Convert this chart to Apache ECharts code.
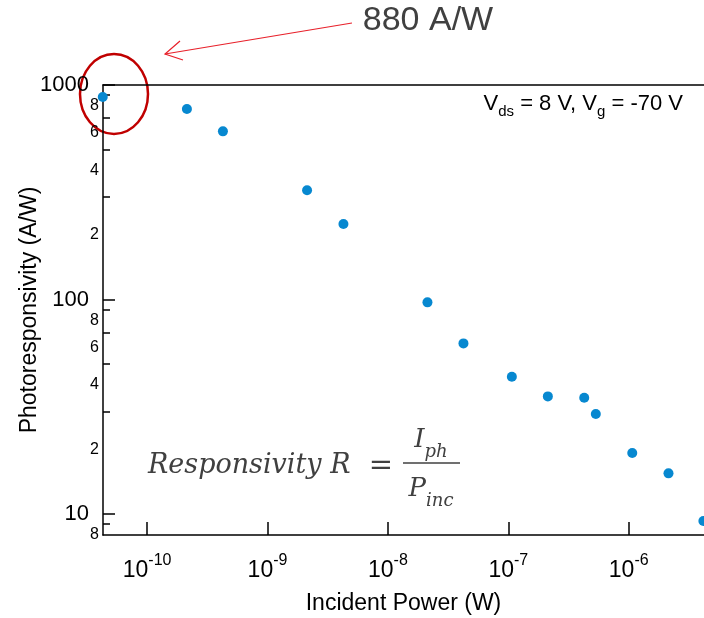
<!DOCTYPE html>
<html>
<head>
<meta charset="utf-8">
<script src="https://cdn.jsdelivr.net/npm/echarts@6/dist/echarts.min.js"></script>
<style>
  html, body { margin: 0; padding: 0; background: #fff; }
  #chart { width: 704px; height: 618px; }
</style>
</head>
<body>
<div id="chart"></div>
<script>
// incident power (W) and responsivity (A/W)
const power = [4.28e-11, 2.14e-10, 4.26e-10, 2.13e-9, 4.27e-9, 2.13e-8, 4.24e-8,
  1.07e-7, 2.13e-7, 4.27e-7, 5.33e-7, 1.07e-6, 2.14e-6, 4.17e-6];
const responsivity = [880, 773, 608, 323, 225, 97.1, 62.5,
  43.7, 35.4, 34.9, 29.3, 19.3, 15.5, 9.3];

const xTicks = [1e-10, 1e-9, 1e-8, 1e-7, 1e-6];
const xTickExp = ['-10', '-9', '-8', '-7', '-6'];
const yMajorTicks = [10, 100, 1000];
const yMinorTicks = [9, 30, 50, 70, 90, 300, 500, 700, 900];
const yLabelValues = [8, 10, 20, 40, 60, 80, 100, 200, 400, 600, 800, 1000];
const yLabelText = ['8', '10', '2', '4', '6', '8', '100', '2', '4', '6', '8', '1000'];

const X_MIN = 4.3e-11, X_MAX = 4.22e-6;
const Y_MIN = 8, Y_MAX = 1000;

const FONT = 'Liberation Sans, Arial, sans-serif';
const SERIF = 'DejaVu Serif';

function findIdx(arr, v) {
  return arr.findIndex(a => Math.abs(Math.log10(a) - Math.log10(v)) < 1e-6);
}

const chart = echarts.init(document.getElementById('chart'));

// sub/superscripts: same box height, the padding does the shifting
const fracRich = {
  m: { font: 'italic 26px ' + SERIF, fill: '#404040', lineHeight: 26, padding: [0, 0, 8, 0] },
  s: { font: 'italic 18px ' + SERIF, fill: '#404040', lineHeight: 18, padding: [16, 0, 0, 0] }
};

const option = {
  animation: false,
  grid: { left: 103, right: 0, top: 85, bottom: 83, containLabel: false, outerBoundsMode: 'none' },
  xAxis: [
    {
      type: 'log', logBase: 10, min: X_MIN, max: X_MAX, position: 'bottom',
      axisLine: { show: true, onZero: false, lineStyle: { color: '#000', width: 1.5 } },
      axisTick: { show: true, inside: true, length: 13, customValues: xTicks, lineStyle: { color: '#000', width: 1.5 } },
      axisLabel: {
        customValues: xTicks,
        margin: 21,
        formatter: v => {
          const i = findIdx(xTicks, v);
          return '{b|10}{s|' + xTickExp[i] + '}';
        },
        rich: {
          b: { fontSize: 23, fontFamily: FONT, color: '#000', lineHeight: 22, padding: [7, 0, 0, 0] },
          s: { fontSize: 16, fontFamily: FONT, color: '#000', lineHeight: 16, padding: [0, 0, 13, 0] }
        }
      },
      splitLine: { show: false },
      name: 'Incident Power (W)',
      nameLocation: 'middle',
      nameGap: 57,
      nameMoveOverlap: false,
      nameTextStyle: { fontSize: 23, fontFamily: FONT, color: '#000' }
    },
    {
      type: 'log', logBase: 10, min: X_MIN, max: X_MAX, position: 'top',
      axisLine: { show: true, onZero: false, lineStyle: { color: '#000', width: 1.5 } },
      axisTick: { show: false },
      axisLabel: { show: false },
      splitLine: { show: false }
    }
  ],
  yAxis: [
    {
      type: 'log', logBase: 10, min: Y_MIN, max: Y_MAX, position: 'left',
      axisLine: { show: true, onZero: false, lineStyle: { color: '#000', width: 1.5 } },
      axisTick: { show: true, inside: true, length: 12, customValues: yMajorTicks, lineStyle: { color: '#000', width: 1.5 } },
      axisLabel: {
        customValues: yLabelValues,
        margin: 4,
        formatter: v => {
          const i = findIdx(yLabelValues, v);
          const big = findIdx(yMajorTicks, v) >= 0;
          return (big ? '{big|' : '{small|') + yLabelText[i] + '}';
        },
        rich: {
          big: { fontSize: 22, fontFamily: FONT, color: '#000', padding: [0, 10, 0, 0] },
          small: { fontSize: 16, fontFamily: FONT, color: '#000' }
        }
      },
      splitLine: { show: false },
      name: 'Photoresponsivity (A/W)',
      nameLocation: 'middle',
      nameRotate: 90,
      nameGap: 62,
      nameMoveOverlap: false,
      nameTextStyle: { fontSize: 23, fontFamily: FONT, color: '#000' }
    },
    {
      type: 'log', logBase: 10, min: Y_MIN, max: Y_MAX, position: 'left',
      axisLine: { show: false },
      axisTick: { show: true, inside: true, length: 7, customValues: yMinorTicks, lineStyle: { color: '#000', width: 1.5 } },
      axisLabel: { show: false },
      splitLine: { show: false }
    }
  ],
  series: [
    {
      type: 'scatter',
      xAxisIndex: 0,
      yAxisIndex: 0,
      clip: false,
      symbol: 'circle',
      symbolSize: 10,
      itemStyle: { color: '#0788d0', opacity: 1 },
      data: power.map((p, i) => [p, responsivity[i]])
    }
  ],
  graphic: [
    {
      type: 'text', x: 683, y: 106,
      style: {
        text: '{n|V}{s|ds}{n| = 8 V, V}{s|g}{n| = -70 V}',
        align: 'right', verticalAlign: 'middle', textAlign: 'right', textVerticalAlign: 'middle',
        rich: {
          n: { fontSize: 22, fontFamily: FONT, fill: '#000', lineHeight: 22, padding: [0, 0, 4, 0] },
          s: { fontSize: 15, fontFamily: FONT, fill: '#000', lineHeight: 15, padding: [11, 0, 0, 0] }
        }
      }
    },
    {
      type: 'text', x: 428, y: 21,
      style: {
        text: '880 A/W', font: '34px ' + FONT, fill: '#404040',
        align: 'center', verticalAlign: 'middle', textAlign: 'center', textVerticalAlign: 'middle'
      }
    },
    {
      type: 'line',
      shape: { x1: 352, y1: 23, x2: 165, y2: 54 },
      style: { stroke: '#e8202a', lineWidth: 1.2 }
    },
    {
      type: 'polyline',
      shape: { points: [[180, 41], [165, 54], [183, 60]] },
      style: { stroke: '#e8202a', lineWidth: 1.2, fill: null }
    },
    {
      type: 'ellipse',
      shape: { cx: 114, cy: 94, rx: 34, ry: 40 },
      style: { stroke: '#c00000', lineWidth: 2.5, fill: null }
    },
    {
      type: 'text', x: 148, y: 466,
      style: {
        text: 'Responsivity R', font: 'italic 27px ' + SERIF, fill: '#404040',
        align: 'left', verticalAlign: 'middle', textAlign: 'left', textVerticalAlign: 'middle'
      }
    },
    {
      type: 'text', x: 381, y: 466,
      style: {
        text: '=', font: '29px ' + SERIF, fill: '#404040',
        align: 'center', verticalAlign: 'middle', textAlign: 'center', textVerticalAlign: 'middle'
      }
    },
    {
      type: 'text', x: 431, y: 444,
      style: {
        text: '{m|I}{s|ph}',
        align: 'center', verticalAlign: 'middle', textAlign: 'center', textVerticalAlign: 'middle',
        rich: fracRich
      }
    },
    {
      type: 'line',
      shape: { x1: 403, y1: 463, x2: 460, y2: 463 },
      style: { stroke: '#404040', lineWidth: 1.5 }
    },
    {
      type: 'text', x: 431, y: 493,
      style: {
        text: '{m|P}{s|inc}',
        align: 'center', verticalAlign: 'middle', textAlign: 'center', textVerticalAlign: 'middle',
        rich: fracRich
      }
    }
  ]
};

chart.setOption(option);
</script>
</body>
</html>
